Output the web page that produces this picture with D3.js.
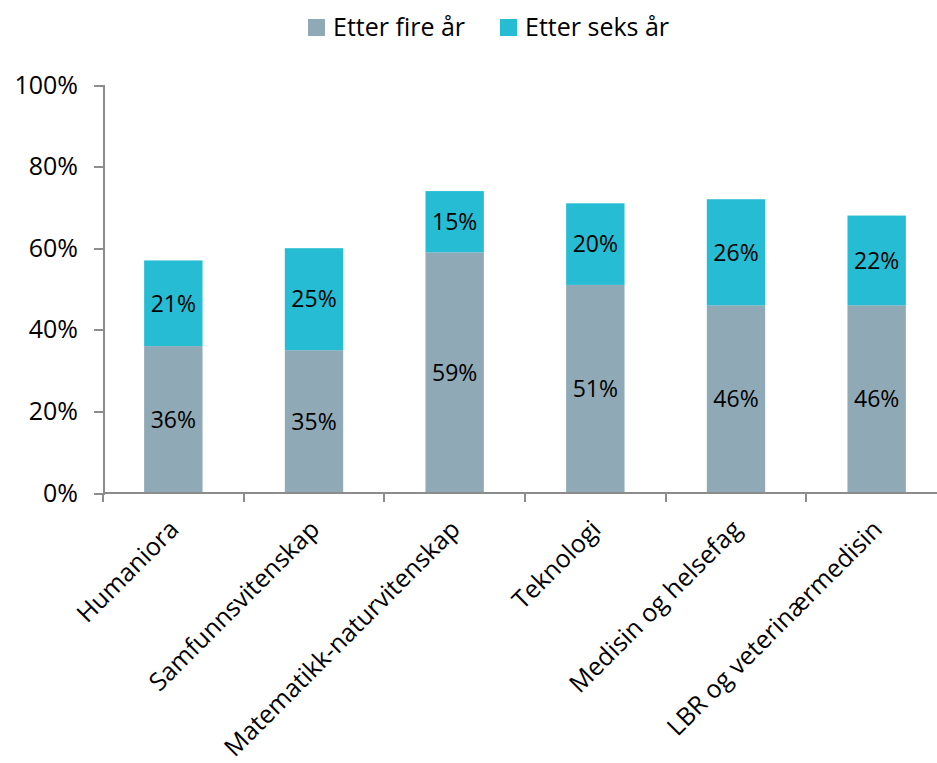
<!DOCTYPE html>
<html>
  <head>
    <meta charset="utf-8" />
    <title>Stacked Bar Chart</title>
    <script src="https://d3js.org/d3.v7.min.js"></script>
    <style>
      body {
        margin: 0;
        background: #fff;
        font-family: "Open Sans", sans-serif;
      }
      .axis path,
      .axis line {
        stroke: #8c8c8c;
        stroke-width: 2;
        shape-rendering: crispEdges;
      }
      .axis text {
        font-family: "Open Sans", sans-serif;
        font-size: 25px;
        fill: #000;
      }
    </style>
  </head>
  <body>
    <svg id="chart" width="937" height="763"></svg>

    <script>
      // Data
      const categories = ['Humaniora', 'Samfunnsvitenskap', 'Matematikk-naturvitenskap',
                          'Teknologi', 'Medisin og helsefag', 'LBR og veterinærmedisin'];
      const seriesNames = ['Etter fire år', 'Etter seks år'];
      const fourYears = [36, 35, 59, 51, 46, 46];
      const sixYears = [21, 25, 15, 20, 26, 22];
      const yTicks = [0, 20, 40, 60, 80, 100];

      const colors = ['#8fa9b6', '#26bcd4'];

      const width = 937;
      const height = 763;
      const margin = { top: 85, right: -10, bottom: 270, left: 103 };

      const svg = d3.select('#chart');

      const table = categories.map((c, i) => ({ name: c, four: fourYears[i], six: sixYears[i] }));
      const stack = d3.stack().keys(['four', 'six'])(table);

      const x = d3.scaleBand()
                  .domain(categories)
                  .range([margin.left, width - margin.right])
                  .paddingInner(0.585)
                  .paddingOuter(0.2925);

      const y = d3.scaleLinear()
                  .domain([0, 100])
                  .range([height - margin.bottom, margin.top]);

      // Bars
      svg.append('g').selectAll('g')
         .data(stack)
         .join('g')
           .attr('fill', (d, i) => colors[i])
         .selectAll('rect')
         .data(d => d)
         .join('rect')
           .attr('x', d => x(d.data.name))
           .attr('y', d => y(d[1]))
           .attr('width', x.bandwidth())
           .attr('height', d => y(d[0]) - y(d[1]));

      // Value labels
      svg.append('g').selectAll('g')
         .data(stack)
         .join('g')
         .selectAll('text')
         .data(d => d)
         .join('text')
           .attr('x', d => x(d.data.name) + x.bandwidth() / 2)
           .attr('y', d => y((d[0] + d[1]) / 2))
           .attr('dy', '0.36em')
           .attr('text-anchor', 'middle')
           .style('font-size', '23px')
           .text(d => (d[1] - d[0]) + '%');

      // Y axis
      svg.append('g')
         .attr('class', 'axis')
         .attr('transform', `translate(${margin.left},0)`)
         .call(d3.axisLeft(y).tickValues(yTicks).tickSize(9).tickPadding(16).tickFormat(d => d + '%'));

      // X axis: ticks at category boundaries
      const step = x.step();
      const boundaries = d3.range(categories.length + 1).map(i => margin.left + i * step);
      const xAxis = svg.append('g').attr('class', 'axis');
      xAxis.append('line')
           .attr('x1', margin.left).attr('x2', width)
           .attr('y1', y(0)).attr('y2', y(0));
      xAxis.selectAll('.tick')
           .data(boundaries)
           .join('line')
             .attr('x1', d => d).attr('x2', d => d)
             .attr('y1', y(0)).attr('y2', y(0) + 9);
      xAxis.selectAll('.lbl')
           .data(categories)
           .join('text')
             .attr('class', 'lbl')
             .attr('text-anchor', 'end')
             .attr('transform', d => `translate(${x(d) + x.bandwidth() / 2 + 7},${y(0) + 38}) rotate(-45)`)
             .text(d => d);

      // Legend
      const legendX = [308, 500];
      const legend = svg.append('g').selectAll('g')
         .data(seriesNames)
         .join('g')
           .attr('transform', (d, i) => `translate(${legendX[i]},19)`);
      legend.append('rect')
            .attr('width', 17).attr('height', 17)
            .attr('fill', (d, i) => colors[i]);
      legend.append('text')
            .attr('x', 25).attr('y', 17)
            .style('font-size', '25px')
            .text(d => d);
    </script>
  </body>
</html>
